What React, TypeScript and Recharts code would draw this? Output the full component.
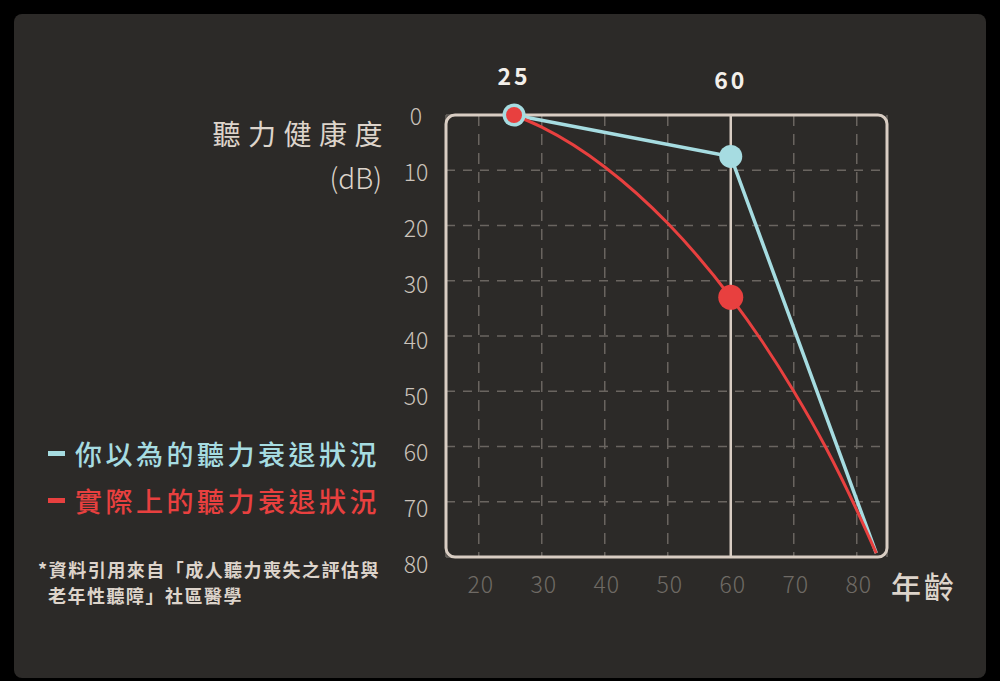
import {
  CartesianGrid,
  Legend,
  Line,
  LineChart,
  ReferenceArea,
  ReferenceLine,
  XAxis,
  YAxis,
} from "recharts";

const seriesNames = ["你以為的聽力衰退狀況", "實際上的聽力衰退狀況"];

// 你以為的 (linear)
const expectedAges = [25.6, 60, 83.1];
const expectedDb = [0, 7.5, 79.3];

// 實際上的 (curved)
const actualAges = [25.6, 30, 40, 50, 60, 65, 70, 75, 80, 83.1];
const actualDb = [0, 2.2, 9.4, 19.6, 33, 41, 50, 60, 71.5, 79.3];

const markedAges = [25.6, 60];
const markedLabels = ["25", "60"];

const xTicks = [20, 30, 40, 50, 60, 70, 80];
const yTicks = [0, 10, 20, 30, 40, 50, 60, 70, 80];
const xDomain: [number, number] = [14.8, 84.8];
const yDomain: [number, number] = [0, 80];

const expectedData = expectedAges.map((age, i) => ({ age, db: expectedDb[i] }));
const actualData = actualAges.map((age, i) => ({ age, db: actualDb[i] }));

const FONT = '"Noto Sans CJK TC", "Noto Sans", sans-serif';
const BLUE = "#a6dce1";
const RED = "#e8403f";
const FRAME = "#d9cdc3";
const GRID = "#6a6560";
const TEXT = "#ddd4cb";

function makeDot(color: string, radii: number[]) {
  return (props: any) => {
    const { cx, cy, payload, index } = props;
    const i = markedAges.indexOf(payload?.age);
    if (i < 0) return <g key={`dot-${index}`} />;
    return <circle key={`dot-${index}`} cx={cx} cy={cy} r={radii[i]} fill={color} />;
  };
}

function YTick(props: any) {
  const { x, y, payload } = props;
  return (
    <text
      x={x - 30}
      y={y + 2 + payload.value * 0.07}
      dy="0.357em"
      textAnchor="middle"
      fill="#cbc3bb"
      fontSize={23}
      fontWeight={300}
      fontFamily={FONT}
    >
      {payload.value}
    </text>
  );
}

function XTick(props: any) {
  const { x, y, payload } = props;
  return (
    <text
      x={x + 2}
      y={y}
      dy="0.357em"
      textAnchor="middle"
      fill="#6f6a65"
      fontSize={23}
      fontWeight={300}
      letterSpacing={1}
      fontFamily={FONT}
    >
      {payload.value}
    </text>
  );
}

function LegendContent({ payload }: any) {
  const items = seriesNames
    .map((n) => (payload || []).find((p: any) => p.value === n))
    .filter(Boolean);
  return (
    <div style={{ fontFamily: FONT }}>
      {items.map((item: any) => (
        <div key={item.value} style={{ display: "flex", alignItems: "center", height: 47 }}>
          <span style={{ width: 17, height: 5, background: item.color, marginRight: 10 }} />
          <span
            style={{
              color: item.color,
              fontSize: 27,
              fontWeight: 500,
              letterSpacing: 3.5,
              lineHeight: "34px",
              whiteSpace: "nowrap",
            }}
          >
            {item.value}
          </span>
        </div>
      ))}
    </div>
  );
}

const abs = (s: React.CSSProperties): React.CSSProperties => ({
  position: "absolute",
  fontFamily: FONT,
  whiteSpace: "nowrap",
  ...s,
});

export default function App() {
  return (
    <div
      style={{
        position: "fixed",
        left: 0,
        top: 0,
        width: 1000,
        height: 681,
        background: "#000",
        overflow: "hidden",
      }}
    >
      <div
        style={{
          position: "absolute",
          left: 14,
          top: 14,
          width: 972,
          height: 664,
          background: "#2c2a28",
          borderRadius: 8,
        }}
      />
      <div style={{ position: "absolute", left: 0, top: 0 }}>
        <LineChart
          width={1000}
          height={681}
          margin={{ top: 115, right: 113, bottom: 84, left: 386 }}
        >
          <CartesianGrid
            horizontal={false}
            stroke={GRID}
            strokeWidth={1.5}
            strokeDasharray="11 8"
          />
          <CartesianGrid
            vertical={false}
            stroke={GRID}
            strokeWidth={1.5}
            strokeDasharray="9 8"
          />
          <XAxis
            dataKey="age"
            type="number"
            domain={xDomain}
            ticks={xTicks}
            allowDataOverflow
            axisLine={false}
            tickLine={false}
            tickSize={0}
            tickMargin={28}
            height={40}
            tick={<XTick />}
          />
          <YAxis
            dataKey="db"
            type="number"
            domain={yDomain}
            ticks={yTicks}
            reversed
            axisLine={false}
            tickLine={false}
            tickSize={0}
            tickMargin={0}
            width={60}
            tick={<YTick />}
          />
          <ReferenceArea
            x1={xDomain[0]}
            x2={xDomain[1]}
            y1={yDomain[0]}
            y2={yDomain[1]}
            shape={(p: any) => (
              <rect
                x={p.x}
                y={p.y}
                width={p.width}
                height={p.height}
                rx={9}
                ry={9}
                fill="none"
                stroke={FRAME}
                strokeWidth={3}
              />
            )}
          />
          {markedAges.map((age, i) => (
            <ReferenceLine
              key={age}
              x={age}
              stroke={FRAME}
              strokeWidth={2.5}
              strokeOpacity={age === 60 ? 1 : 0}
              label={{
                value: markedLabels[i],
                position: "top",
                offset: i === 0 ? 30 : 26,
                fill: "#f3efea",
                fontSize: 23,
                fontWeight: 700,
                letterSpacing: 3,
                fontFamily: FONT,
              }}
            />
          ))}
          <Legend
            layout="vertical"
            align="center"
            verticalAlign="middle"
            wrapperStyle={{ left: 48, top: 430, width: 360 }}
            content={<LegendContent />}
          />
          <Line
            name={seriesNames[0]}
            data={expectedData}
            dataKey="db"
            type="linear"
            stroke={BLUE}
            strokeWidth={3.5}
            dot={makeDot(BLUE, [11.5, 11.5])}
            activeDot={false}
            isAnimationActive={false}
          />
          <Line
            name={seriesNames[1]}
            data={actualData}
            dataKey="db"
            type="monotone"
            stroke={RED}
            strokeWidth={3}
            dot={makeDot(RED, [8, 12.5])}
            activeDot={false}
            isAnimationActive={false}
          />
        </LineChart>
      </div>
      <div
        style={abs({
          right: 610,
          top: 116,
          fontSize: 28,
          lineHeight: "34px",
          letterSpacing: 7.5,
          color: TEXT,
        })}
      >
        聽力健康度
      </div>
      <div
        style={abs({
          right: 618,
          top: 160,
          fontSize: 28,
          lineHeight: "34px",
          fontWeight: 300,
          color: TEXT,
        })}
      >
        (dB)
      </div>
      <div
        style={abs({
          left: 38,
          top: 556,
          fontSize: 18,
          lineHeight: "26px",
          fontWeight: 700,
          letterSpacing: 1.5,
          color: TEXT,
        })}
      >
        *資料引用來自「成人聽力喪失之評估與
      </div>
      <div
        style={abs({
          left: 48,
          top: 582,
          fontSize: 18,
          lineHeight: "26px",
          fontWeight: 700,
          letterSpacing: 1.5,
          color: TEXT,
        })}
      >
        老年性聽障」社區醫學
      </div>
      <div
        style={abs({
          left: 891,
          top: 567,
          fontSize: 30,
          lineHeight: "36px",
          fontWeight: 500,
          letterSpacing: 3,
          color: TEXT,
        })}
      >
        年齡
      </div>
    </div>
  );
}
